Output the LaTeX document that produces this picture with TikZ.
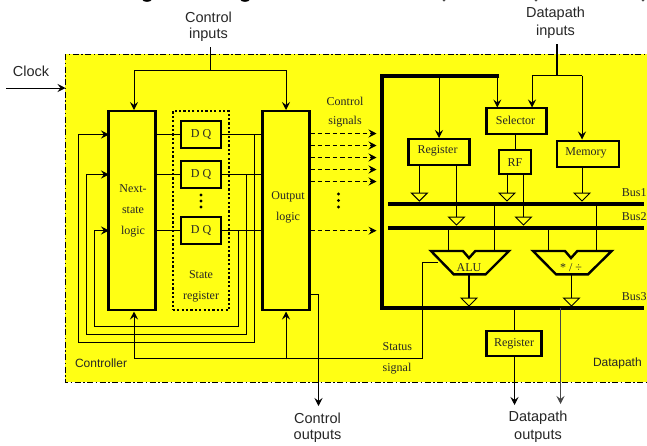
\documentclass[tikz,border=0pt]{standalone}
\usepackage{fontspec}
\setmainfont{Liberation Serif}
\newfontfamily\sansf{Liberation Sans}
\usetikzlibrary{arrows.meta}
\definecolor{yel}{RGB}{255,255,20}
\tikzset{
 every node/.style={inner sep=0pt,outer sep=0pt},
 wire/.style={line width=0.9pt,draw=black},
 arr/.style={wire,-{Stealth[length=8pt,width=8pt,inset=3pt]}},
 dasharr/.style={arr,dash pattern=on 4.5pt off 3pt},
 blk/.style={draw=black,line width=2.2pt,fill=yel,anchor=center},
 thickbox/.style={blk,line width=2.6pt},
 buswire/.style={line width=3.6pt,draw=black,line cap=butt},
 tri/.style={draw=black,line width=1pt,fill=yel},
 sl/.style={font=\sansf\fontsize{14.5}{16}\selectfont,text=black!85},
 sm/.style={font=\sansf\fontsize{12}{14}\selectfont,text=black!85},
 tl/.style={font=\fontsize{12}{14}\selectfont,text=black!85},
 dot/.style={circle,fill=black,minimum size=3.4pt},
}
\newcommand{\tristate}[2]{\draw[tri] (#1-8,#2) -- (#1+8,#2) -- (#1,#2+8) -- cycle;}
\begin{document}
\begin{tikzpicture}[x=1pt,y=-1pt]
\useasboundingbox (0,0) rectangle (647,445);
% remnants of the cropped heading
\foreach \xx/\ww in {147/4.5,245/4.5}{\fill[black] (\xx,0) ellipse ({\ww pt} and 1.8pt);}
\foreach \xx in {444,536,643}{\fill[black!70] (\xx,0) ellipse (1.5pt and 1.6pt);}
% canvas
\draw[fill=yel,draw=black,line width=1pt,dash pattern=on 6pt off 2.5pt on 1.5pt off 2.5pt] (65,54) rectangle (650,382);
% outer labels
\node[sl] (clk) at (31,71) {Clock};
\node[sl] (ci1) at (208.5,17) {Control};
\node[sl] (ci2) at (208.5,35) {inputs};
\node[sl] (di1) at (555.5,14) {Datapath};
\node[sl] (di2) at (555.5,32) {inputs};
\node[sl] (co1) at (317.5,418) {Control};
\node[sl] (co2) at (317.5,436) {outputs};
\node[sl] (do1) at (538,418) {Datapath};
\node[sl] (do2) at (538,436) {outputs};
\node[sm,anchor=west] (ctl) at (75,363) {Controller};
\node[sm,anchor=west] (dpl) at (593,363) {Datapath};
% clock
\coordinate (clka) at (6,88);
\coordinate (clkb) at (65.5,88);
\draw[arr] (clka) -- (clkb);
% control section boxes
\node[blk,minimum width=47pt,minimum height=199pt] (ns) at (132,210.5) {};
\node[blk,minimum width=47pt,minimum height=199pt] (ol) at (286,210.5) {};
\node[draw=black,line width=2.2pt,dash pattern=on 2.2pt off 2.2pt,minimum width=56.5pt,minimum height=199pt] (sr) at (201,210.5) {};
\node[tl] at (133,189) {Next-};
\node[tl] at (133,210.5) {state};
\node[tl] at (133,232) {logic};
\node[tl] at (288,197) {Output};
\node[tl] at (288,218) {logic};
\node[tl] at (201,275) {State};
\node[tl] at (201,297) {register};
% inputs
\coordinate (cit) at (210.5,47);
\coordinate (cij) at (210.5,70);
\draw[wire] (cit) -- (cij);
\draw[arr] (cij) -| (134,110);
\draw[arr] (cij) -| (286,110);
% stage wires
\foreach \yy/\fx/\fy/\gx in {134.5/254.5/342/78.5,174.5/246.5/334.5/86.5,230.5/238.5/326.5/94.5}{
 \draw[wire] (156,\yy) -- (181,\yy);
 \draw[wire] (221,\yy) -- (262,\yy);
 \draw[arr] (\fx,\yy) -- (\fx,\fy) -- (\gx,\fy) -- (\gx,\yy) -- (109,\yy);
}
% flip flops
\node[blk,minimum width=40pt,minimum height=27pt] (d1) at (201,134.5) {};
\node[blk,minimum width=40pt,minimum height=27pt] (d2) at (201,174.5) {};
\node[blk,minimum width=40pt,minimum height=27pt] (d3) at (201,230.5) {};
\node[tl] at (201,134.5) {D Q};
\node[tl] at (201,174.5) {D Q};
\node[tl] at (201,230.5) {D Q};
\foreach \yy in {195,201,207}{\node[dot] at (201,\yy) {};}
% control signals
\node[tl] at (345,101) {Control};
\node[tl] at (345,122) {signals};
\foreach \yy in {133.5,145.5,157.5,169.5,181.5,230.7}{
 \draw[dasharr] (310,\yy) -- (376.5,\yy);
}
\foreach \yy in {194,200.5,207}{\node[dot] at (338.5,\yy) {};}
% status
\coordinate (st0) at (438,262.3);
\coordinate (st1) at (422.7,262.3);
\coordinate (st2) at (422.7,358.3);
\coordinate (st3) at (286,358.3);
\draw[wire] (st0) -- (st1) -- (st2) -- (st3);
\draw[arr] (st3) -- (286,311.5);
\draw[arr] (st3) -- (134,358.3) -- (134,311.5);
\node[tl,anchor=west] at (382.7,347) {Status};
\node[tl,anchor=west] at (382.7,369) {signal};
% control out
\draw[arr] (309.5,294.7) -- (318.5,294.7) -- (318.5,406);
% datapath frame
\draw[line width=4.4pt,miter limit=10] (499,75.7) -- (382,75.7) -- (382,308) -- (644,308);
\draw[buswire] (388,204) -- (644,204);
\draw[buswire] (388,228) -- (644,228);
\node[tl,anchor=east] at (646.5,193) {Bus1};
\node[tl,anchor=east] at (646.5,217) {Bus2};
\node[tl,anchor=east] at (646.5,297) {Bus3};
% datapath inputs
\draw[line width=2pt] (557,44) -- (557,75.5);
\draw[wire] (532,75.5) -- (582,75.5);
\draw[arr] (532,75.5) -- (532,107.5);
\draw[arr] (582,75.5) -- (582,139.5);
\draw[arr] (439,76) -- (439,138);
\draw[arr] (497.3,76) -- (497.3,107.5);
% wires under blocks
\foreach \xx/\ya/\yb in {419.3/166/193,456.5/166/217,507/174/193,523.5/174/217,582/167/193}{
 \draw[wire] (\xx,\ya) -- (\xx,\yb);
 \tristate{\xx}{\yb}
}
\foreach \xx/\ya in {494.7/204,596.7/204,448.7/228,548.5/228}{
 \draw[wire] (\xx,\ya) -- (\xx,251);
}
\draw[wire] (515.5,134.5) -- (515.5,149.5);
% datapath blocks
\node[blk,minimum width=61pt,minimum height=26.5pt] (reg) at (439,152) {};
\node[tl] at (437.5,151) {Register};
\node[blk,minimum width=60pt,minimum height=26pt] (sel) at (516.5,121) {};
\node[tl] at (515.5,120) {Selector};
\node[blk,minimum width=62pt,minimum height=26pt] (mem) at (588,154) {};
\node[tl] at (586,153) {Memory};
\node[blk,minimum width=31.5pt,minimum height=24pt] (rf) at (515,162) {};
\node[tl] at (515,163) {RF};
% ALU and multiplier
\draw[line width=2.4pt,fill=yel,line join=miter] (431,251) -- (463,251) -- (469,258) -- (475.3,251) -- (509,251) -- (485.7,274.3) -- (453.7,274.3) -- cycle;
\draw[line width=2.4pt,fill=yel,line join=miter] (533,251) -- (565,251) -- (571,258) -- (577.3,251) -- (611.7,251) -- (588,274.3) -- (556,274.3) -- cycle;
\node[tl] at (469,268) {ALU};
\node[tl] at (571,268) {* / ÷};
\draw[line width=2.2pt] (469,274.3) -- (469,298);
\tristate{469}{298}
\draw[wire] (571.5,274.3) -- (571.5,298);
\tristate{571.5}{298}
% output register
\draw[wire] (514.5,308) -- (514.5,331);
\node[blk,minimum width=55pt,minimum height=24.5pt] (oreg) at (514,343.5) {};
\node[tl] at (514,344) {Register};
\draw[arr] (514.5,356) -- (514.5,405);
\draw[arr,line width=1.4pt,draw=black!72,-{Stealth[length=8pt,width=8pt,inset=3pt,fill=black]}] (560.5,308) -- (560.5,404);
\end{tikzpicture}
\end{document}
